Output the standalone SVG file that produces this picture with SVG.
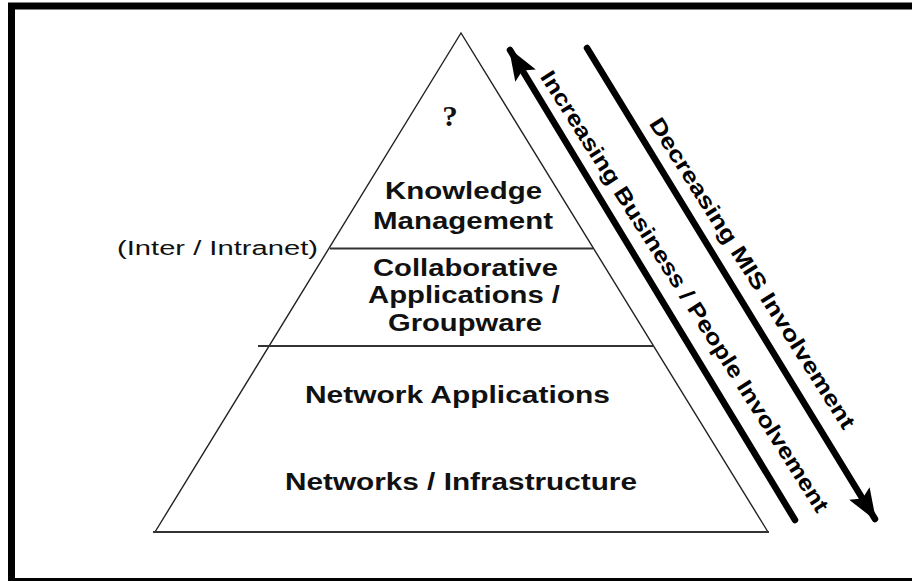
<svg xmlns="http://www.w3.org/2000/svg" width="912" height="581" viewBox="0 0 912 581">
<defs>
<style>
.lbl{font-family:"Liberation Sans",Arial,sans-serif;font-weight:bold;font-size:23px;fill:#111;text-anchor:middle}
.side{font-family:"Liberation Sans",Arial,sans-serif;font-size:20px;fill:#111}
.rot{font-family:"Liberation Sans",Arial,sans-serif;font-weight:bold;font-size:22px;fill:#000;text-anchor:middle}
.edge{stroke:#222;stroke-width:1.4;fill:none}
.div{stroke:#333;stroke-width:2;fill:none}
.shaft{stroke:#000;stroke-width:6.5;stroke-linecap:round;fill:none}
</style>
<marker id="head" viewBox="0 0 32 24" refX="30" refY="12" markerWidth="32" markerHeight="24" markerUnits="userSpaceOnUse" orient="auto">
<path d="M0,0 L32,12 L0,24 L6,12 Z" fill="#000"/>
</marker>
</defs>
<rect x="0" y="0" width="912" height="581" fill="#fff"/>
<rect id="frame" x="11.5" y="6" width="920" height="575.5" fill="none" stroke="#000" stroke-width="7"/>

<g id="pyramid">
<path class="edge" d="M155,532 L461,33 L768,532"/>
<line class="div" x1="153" y1="532" x2="769" y2="532"/>
<line class="div" x1="330" y1="248.5" x2="593" y2="248.5"/>
<line class="div" x1="258" y1="346" x2="654" y2="346"/>
</g>

<g id="top">
<text x="450" y="126" textLength="15.5" lengthAdjust="spacingAndGlyphs" style="font-family:'Liberation Serif','Times New Roman',serif;font-weight:bold;font-size:30px;fill:#111;text-anchor:middle">?</text>
</g>
<g id="knowledge">
<text class="lbl" x="463.5" y="199" textLength="157" lengthAdjust="spacingAndGlyphs">Knowledge</text>
<text class="lbl" x="463" y="229" textLength="180" lengthAdjust="spacingAndGlyphs">Management</text>
</g>
<g id="collab">
<text class="lbl" x="465.5" y="276" textLength="185" lengthAdjust="spacingAndGlyphs">Collaborative</text>
<text class="lbl" x="464" y="303" textLength="192" lengthAdjust="spacingAndGlyphs">Applications /</text>
<text class="lbl" x="465" y="331" textLength="154" lengthAdjust="spacingAndGlyphs">Groupware</text>
</g>
<g id="netapps">
<text class="lbl" x="457.5" y="403" textLength="305" lengthAdjust="spacingAndGlyphs">Network Applications</text>
</g>
<g id="infra">
<text class="lbl" x="461" y="490" textLength="352" lengthAdjust="spacingAndGlyphs">Networks / Infrastructure</text>
</g>
<g id="inter">
<text class="side" x="117" y="254.5" textLength="201" lengthAdjust="spacingAndGlyphs">(Inter / Intranet)</text>
</g>

<g id="connectors">
<line id="up" class="shaft" x1="795" y1="520" x2="510" y2="50" marker-end="url(#head)"/>
<line id="down" class="shaft" x1="587" y1="48" x2="875" y2="519" marker-end="url(#head)"/>
</g>

<g id="labels">
<text class="rot" x="0" y="0" transform="translate(678.4,295.5) rotate(57.6)" textLength="518" lengthAdjust="spacingAndGlyphs">Increasing Business / People Involvement</text>
<text class="rot" x="0" y="0" transform="translate(745.9,277.1) rotate(57.6)" textLength="364" lengthAdjust="spacingAndGlyphs">Decreasing MIS Involvement</text>
</g>
</svg>
